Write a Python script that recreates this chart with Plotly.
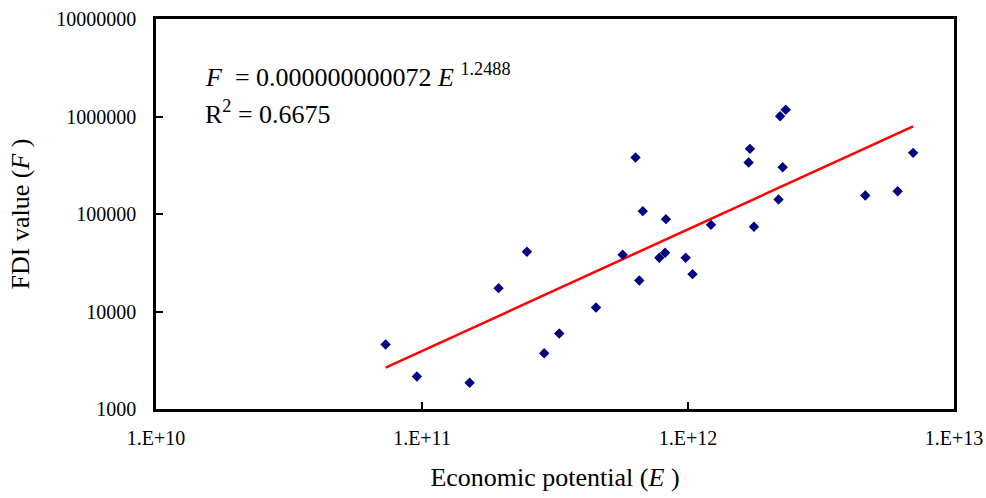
import numpy as np
import plotly.graph_objects as go

# Economic potential (E) and FDI value (F)
economic_potential = [7.3e10, 9.57e10, 1.51e11, 1.94e11, 2.48e11, 2.88e11, 3.28e11,
                      4.51e11, 5.68e11, 6.35e11, 6.56e11, 6.76e11, 7.8e11, 8.2e11,
                      8.26e11, 9.8e11, 1.04e12, 1.22e12, 1.69e12, 1.71e12, 1.77e12,
                      2.19e12, 2.22e12, 2.27e12, 2.33e12, 4.64e12, 6.14e12, 7.02e12]
fdi_value = [4590, 2155, 1857, 17350, 40950, 3735, 5946,
             10990, 38170, 379600, 20800, 106900, 35560, 40000,
             88500, 35560, 24150, 77400, 337500, 466000, 73900,
             140900, 1007000, 302000, 1172000, 154800, 171400, 423700]

# Power trend line parameters (F = a * E^b)
coef_a = 0.000000000072
exponent_b = 1.2488
r_squared = 0.6675

x_ticks = [1e10, 1e11, 1e12, 1e13]
x_tick_labels = ["1.E+10", "1.E+11", "1.E+12", "1.E+13"]
y_ticks = [1e3, 1e4, 1e5, 1e6, 1e7]
y_tick_labels = ["1000", "10000", "100000", "1000000", "10000000"]

serif = "Liberation Serif, Times New Roman, serif"

trend_x = np.array([min(economic_potential), max(economic_potential)])
trend_y = coef_a * trend_x ** exponent_b

fig = go.Figure()
fig.add_trace(go.Scatter(
    x=trend_x, y=trend_y, mode="lines",
    line=dict(color="#ff0000", width=2.5), showlegend=False, hoverinfo="skip"))
fig.add_trace(go.Scatter(
    x=economic_potential, y=fdi_value, mode="markers",
    marker=dict(symbol="diamond", size=8, color="#000080", line=dict(width=0)),
    showlegend=False))

fig.add_annotation(
    xref="paper", yref="paper", x=0.059, y=0.856, xanchor="left", yanchor="middle",
    text="<i>F</i>  = 0.000000000072 <i>E</i> <sup>%s</sup>" % "1.2488",
    showarrow=False, font=dict(family=serif, size=26, color="black"))
fig.add_annotation(
    xref="paper", yref="paper", x=0.059, y=0.759, xanchor="left", yanchor="middle",
    text="R<sup>2</sup> = %s" % "0.6675",
    showarrow=False, font=dict(family=serif, size=26, color="black"))

fig.update_xaxes(
    type="log", range=[10, 13], tickvals=x_ticks, ticktext=x_tick_labels,
    ticks="inside", ticklen=7, tickwidth=2, tickcolor="black",
    showline=True, linecolor="black", linewidth=2.5, mirror=True,
    showgrid=False, zeroline=False, ticklabelstandoff=9, automargin=False,
    ticklabeloverflow="allow",
    tickfont=dict(family=serif, size=20, color="black"),
    title=dict(text="Economic potential (<i>E</i> )", standoff=21,
               font=dict(family=serif, size=26, color="black")))
fig.update_yaxes(
    type="log", range=[3, 7], tickvals=y_ticks, ticktext=y_tick_labels,
    ticks="inside", ticklen=7, tickwidth=2, tickcolor="black",
    showline=True, linecolor="black", linewidth=2.5, mirror=True,
    showgrid=False, zeroline=False, ticklabelstandoff=13, automargin=False,
    ticklabeloverflow="allow",
    tickfont=dict(family=serif, size=20, color="black"),
    title=dict(text="FDI value (<i>F</i> )", standoff=20,
               font=dict(family=serif, size=26, color="black")))

fig.update_layout(
    width=986, height=498,
    margin=dict(l=156, r=32, t=19, b=89),
    paper_bgcolor="white", plot_bgcolor="white",
)

# remove the browser's default 8px page margin so the 986x498 figure fills the window
fig.write_html("out.html",
               config={"displayModeBar": False},
               post_script="document.body.style.margin='0px';document.body.style.overflow='hidden';")
